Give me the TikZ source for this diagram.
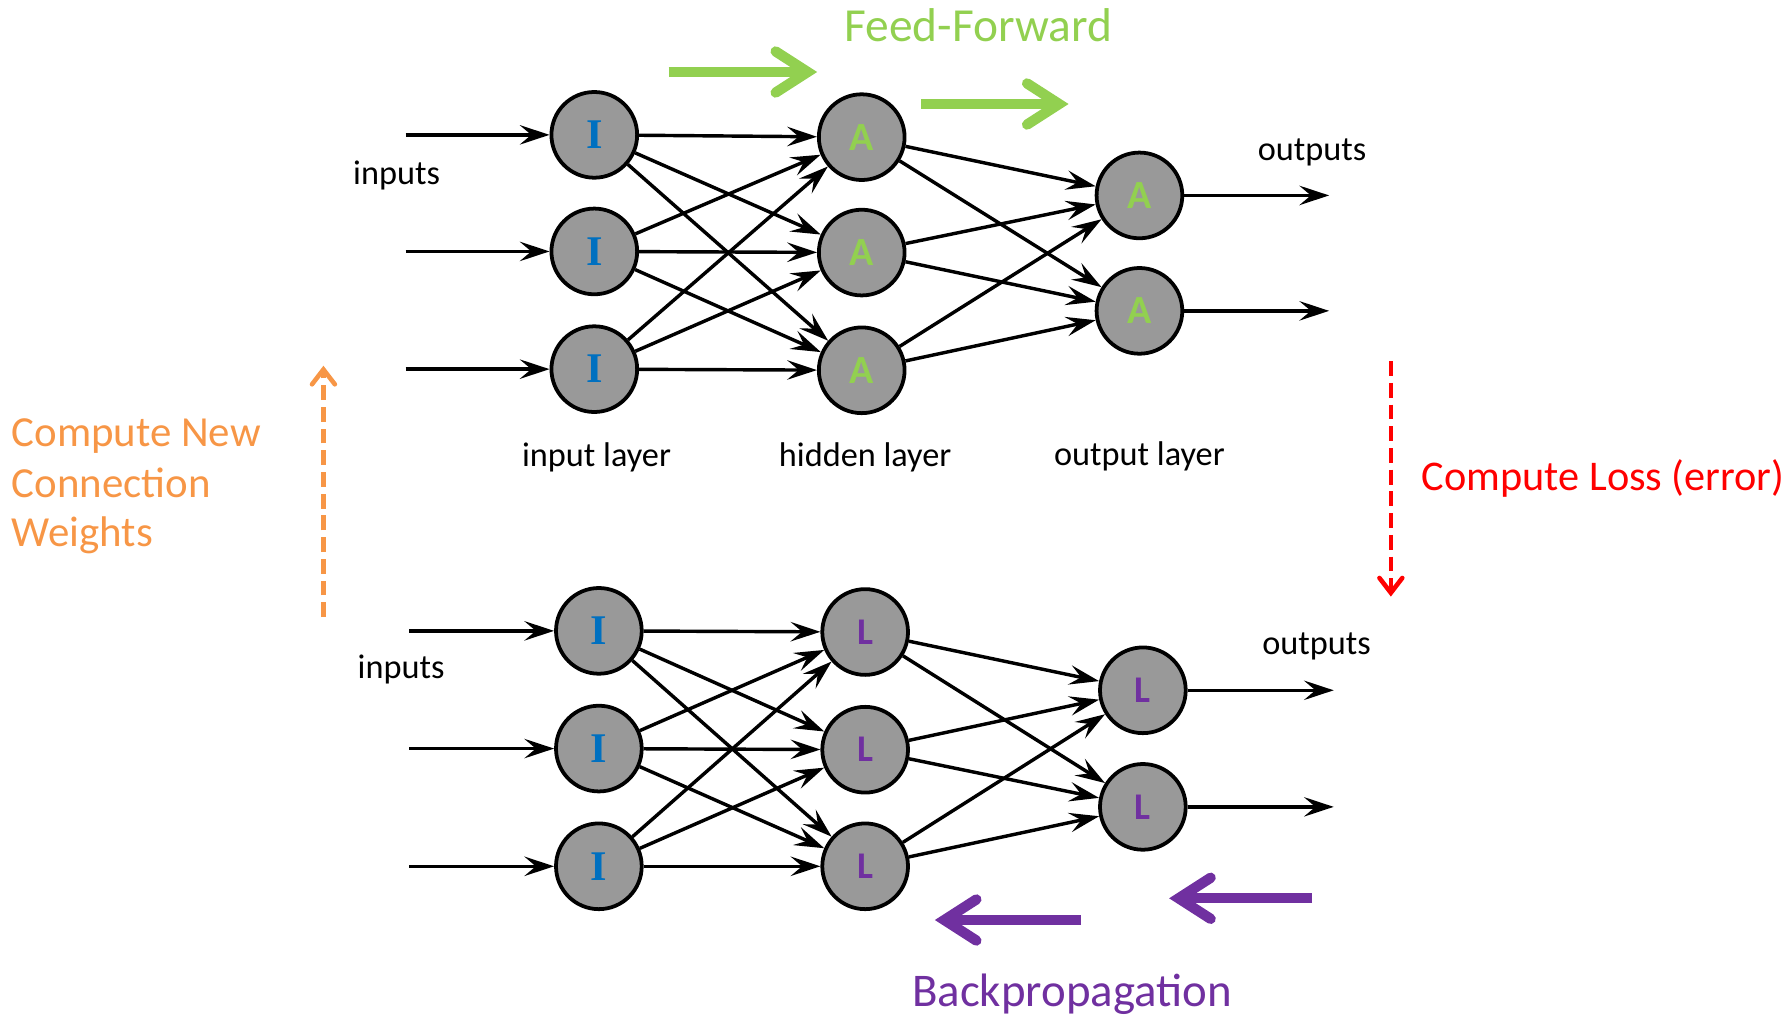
\documentclass[tikz,border=0pt]{standalone}
\usepackage{fontspec}
\setmainfont{Carlito}
\newfontfamily\serifI{Liberation Serif}
\usetikzlibrary{arrows.meta}
\definecolor{ffgreen}{HTML}{92D050}
\definecolor{bporange}{HTML}{F79646}
\definecolor{lossred}{HTML}{FF0000}
\definecolor{bppurple}{HTML}{7030A0}
\definecolor{iblue}{HTML}{0070C0}
\definecolor{nodegray}{HTML}{999999}
\begin{document}
\begin{tikzpicture}[x=1pt,y=-1pt,
  neuron/.style={circle, draw=black, line width=3.3pt, fill=nodegray, minimum size=75pt, inner sep=0pt},
  inneuron/.style={neuron, font=\serifI\bfseries\fontsize{37}{37}\selectfont, text=iblue},
  actneuron/.style={neuron, font=\bfseries\fontsize{35}{35}\selectfont, text=ffgreen},
  lossneuron/.style={neuron, font=\bfseries\fontsize{33}{33}\selectfont, text=bppurple},
  conn/.style={line width=3pt, draw=black, -{Stealth[length=26pt,width=17pt,inset=10pt]}},
  lbl/.style={font=\fontsize{30}{36}\selectfont, anchor=base, inner sep=0pt},
  bigtext/.style={inner sep=0pt},
  bigarrow/.style={line width=9pt, -{Straight Barb[length=28pt,width=36pt,line cap=round]}},
  dasharrow/.style={line width=4pt, dash pattern=on 13pt off 6pt, -{Straight Barb[length=13pt,width=20pt,line cap=round]}},
]
\useasboundingbox (0,0) rectangle (1568,889);

% ---------- top network ----------
\node[inneuron] (ti1) at (520,118) {I};
\node[inneuron] (ti2) at (520,220) {I};
\node[inneuron] (ti3) at (520,323) {I};
\node[actneuron] (th1) at (754,120) {A};
\node[actneuron] (th2) at (754,221) {A};
\node[actneuron] (th3) at (754,324) {A};
\node[actneuron] (to1) at (997,171) {A};
\node[actneuron] (to2) at (997,272) {A};
\coordinate (tin1) at (355,118);
\coordinate (tin2) at (355,220);
\coordinate (tin3) at (355,323);
\coordinate (tout1) at (1163,171);
\coordinate (tout2) at (1163,272);
\foreach \k in {1,2,3} {\draw[conn] (tin\k) -- (ti\k);}
\foreach \a in {1,2,3} {\foreach \b in {1,2,3} {\draw[conn] (ti\a) -- (th\b);}}
\foreach \a in {1,2,3} {\foreach \b in {1,2} {\draw[conn] (th\a) -- (to\b);}}
\foreach \k in {1,2} {\draw[conn] (to\k) -- (tout\k);}
\node[lbl] (tinputs) at (347,161) {inputs};
\node[lbl] (toutputs) at (1148,140) {outputs};
\node[lbl] (tlin) at (522,408) {input layer};
\node[lbl] (tlhid) at (757,408) {hidden layer};
\node[lbl] (tlout) at (997,407) {output layer};

% ---------- bottom network ----------
\node[inneuron] (bi1) at (524,552) {I};
\node[inneuron] (bi2) at (524,655) {I};
\node[inneuron] (bi3) at (524,758) {I};
\node[lossneuron] (bh1) at (757,553) {L};
\node[lossneuron] (bh2) at (757,656) {L};
\node[lossneuron] (bh3) at (757,758) {L};
\node[lossneuron] (bo1) at (1000,604) {L};
\node[lossneuron] (bo2) at (1000,706) {L};
\coordinate (bin1) at (358,552);
\coordinate (bin2) at (358,655);
\coordinate (bin3) at (358,758);
\coordinate (bout1) at (1167,604);
\coordinate (bout2) at (1167,706);
\foreach \k in {1,2,3} {\draw[conn] (bin\k) -- (bi\k);}
\foreach \a in {1,2,3} {\foreach \b in {1,2,3} {\draw[conn] (bi\a) -- (bh\b);}}
\foreach \a in {1,2,3} {\foreach \b in {1,2} {\draw[conn] (bh\a) -- (bo\b);}}
\foreach \k in {1,2} {\draw[conn] (bo\k) -- (bout\k);}
\node[lbl] (binputs) at (351,594) {inputs};
\node[lbl] (boutputs) at (1152,573) {outputs};

% ---------- process arrows and captions ----------
\coordinate (g1s) at (585,63);  \coordinate (g1e) at (715,63);
\coordinate (g2s) at (806,91);  \coordinate (g2e) at (935,91);
\draw[bigarrow, ffgreen] (g1s) -- (g1e);
\draw[bigarrow, ffgreen] (g2s) -- (g2e);
\node[bigtext, anchor=base, text=ffgreen, font=\fontsize{41.5}{48}\selectfont] (ff) at (856,36) {Feed-Forward};

\coordinate (p1s) at (946,805); \coordinate (p1e) at (818,805);
\coordinate (p2s) at (1148,786); \coordinate (p2e) at (1023,786);
\draw[bigarrow, bppurple] (p1s) -- (p1e);
\draw[bigarrow, bppurple] (p2s) -- (p2e);
\node[bigtext, anchor=base, text=bppurple, font=\fontsize{41}{48}\selectfont] (bp) at (938,881) {Backpropagation};

\coordinate (os) at (283,540); \coordinate (oe) at (283,320);
\draw[dasharrow, bporange] (os) -- (oe);
\node[bigtext, anchor=base west, text=bporange, font=\fontsize{37.5}{44}\selectfont] (cn1) at (10,391) {Compute New};
\node[bigtext, anchor=base west, text=bporange, font=\fontsize{37.5}{44}\selectfont] (cn2) at (10,435) {Connection};
\node[bigtext, anchor=base west, text=bporange, font=\fontsize{37.5}{44}\selectfont] (cn3) at (10,478) {Weights};

\coordinate (rs) at (1217,316); \coordinate (re) at (1217,522);
\draw[dasharrow, lossred] (rs) -- (re);
\node[bigtext, anchor=base west, text=lossred, font=\fontsize{37}{44}\selectfont] (cl) at (1244,429) {Compute Loss (error)};
\end{tikzpicture}
\end{document}
